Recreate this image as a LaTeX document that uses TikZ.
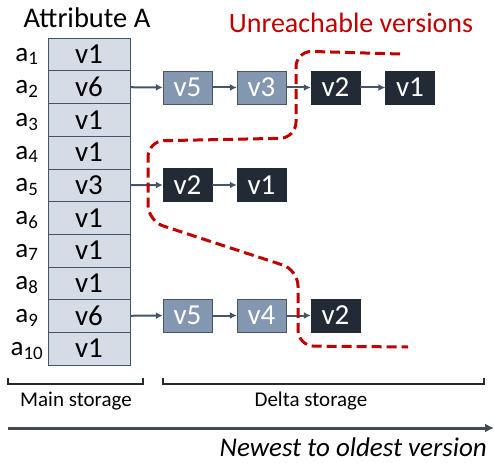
\documentclass[tikz,border=0pt]{standalone}
\usepackage{fontspec}
\setmainfont{Carlito}
\usepackage{tikz}
\usetikzlibrary{arrows.meta}
\definecolor{cellgray}{HTML}{D6DCE5}
\definecolor{cellline}{HTML}{44546A}
\definecolor{newblue}{HTML}{8497B0}
\definecolor{olddark}{HTML}{222A35}
\definecolor{linkgray}{HTML}{44546A}
\definecolor{unreach}{HTML}{C00000}
\tikzset{
	cell/.style={draw=cellline,fill=cellgray,minimum width=82pt,minimum height=32.7pt,inner sep=0pt,font=\fontsize{29}{30}\selectfont},
	rowlbl/.style={inner sep=0pt,font=\fontsize{27}{28}\selectfont},
	newver/.style={draw=olddark!80,fill=newblue,text=white,minimum width=49pt,minimum height=33pt,inner sep=0pt,font=\fontsize{29}{30}\selectfont},
	oldver/.style={draw=olddark,fill=olddark,text=white,minimum width=49pt,minimum height=33pt,inner sep=0pt,font=\fontsize{29}{30}\selectfont},
	link/.style={draw=linkgray,line width=2pt,-{Latex[length=7pt,width=7pt]}},
	brace/.style={draw=olddark,line width=1.8pt},
	cutline/.style={draw=unreach,line width=3pt,dash pattern=on 10pt off 5pt,rounded corners=16pt},
}
\begin{document}
\begin{tikzpicture}[x=1pt,y=-1pt]
	\useasboundingbox (0,0) rectangle (494,462);
	\node[font=\fontsize{28.5}{30}\selectfont] (title) at (87,18) {Attribute A};
	\node[text=unreach,font=\fontsize{28}{30}\selectfont] (unreachlbl) at (351,23) {Unreachable versions};
	% main storage column
	\foreach \v [count=\i] in {v1,v6,v1,v1,v3,v1,v1,v1,v6,v1} {
		\node[cell] (c\i) at (89,{38+32.7*(\i-0.5)}) {\v};
		\node[rowlbl] (a\i) at (27,{40+32.7*(\i-0.5)}) {a\textsubscript{\i}};
	}
	% delta storage
	\node[newver] (r2v5) at (187.5,87.5) {v5};
	\node[newver] (r2v3) at (261.5,87.5) {v3};
	\node[oldver] (r2v2) at (335.5,87.5) {v2};
	\node[oldver] (r2v1) at (410,87.5) {v1};
	\node[oldver] (r5v2) at (187.5,185) {v2};
	\node[oldver] (r5v1) at (261.5,185) {v1};
	\node[newver] (r9v5) at (187.5,315.5) {v5};
	\node[newver] (r9v4) at (261.5,315.5) {v4};
	\node[oldver] (r9v2) at (335.5,315.5) {v2};
	\draw[link] (c2) -- (r2v5);
	\draw[link] (r2v5) -- (r2v3);
	\draw[link] (r2v3) -- (r2v2);
	\draw[link] (r2v2) -- (r2v1);
	\draw[link] (c5) -- (r5v2);
	\draw[link] (r5v2) -- (r5v1);
	\draw[link] (c9) -- (r9v5);
	\draw[link] (r9v5) -- (r9v4);
	\draw[link] (r9v4) -- (r9v2);
	% unreachable boundary
	\draw[cutline] (400,54) -- (296,51) -- (296,138) -- (148,141) -- (148,221) -- (298,270) -- (298,346) -- (408,347);
	% storage brackets
	\draw[brace] (8,378) -- (8,384) -- (143,384) -- (143,378);
	\draw[brace] (163,378) -- (163,384) -- (484,384) -- (484,378);
	\node[font=\fontsize{21}{22}\selectfont] (mainlbl) at (76,401) {Main storage};
	\node[font=\fontsize{21}{22}\selectfont] (deltalbl) at (311,401) {Delta storage};
	% time axis
	\coordinate (tstart) at (8,428);
	\coordinate (tend) at (494,428);
	\draw[draw=olddark!85,line width=3pt,-{Latex[length=9pt,width=9pt]}] (tstart) -- (tend);
	\node[anchor=base east,inner sep=0pt,font=\fontsize{27}{28}\selectfont\itshape] (timelbl) at (487,456) {Newest to oldest version};
\end{tikzpicture}
\end{document}
